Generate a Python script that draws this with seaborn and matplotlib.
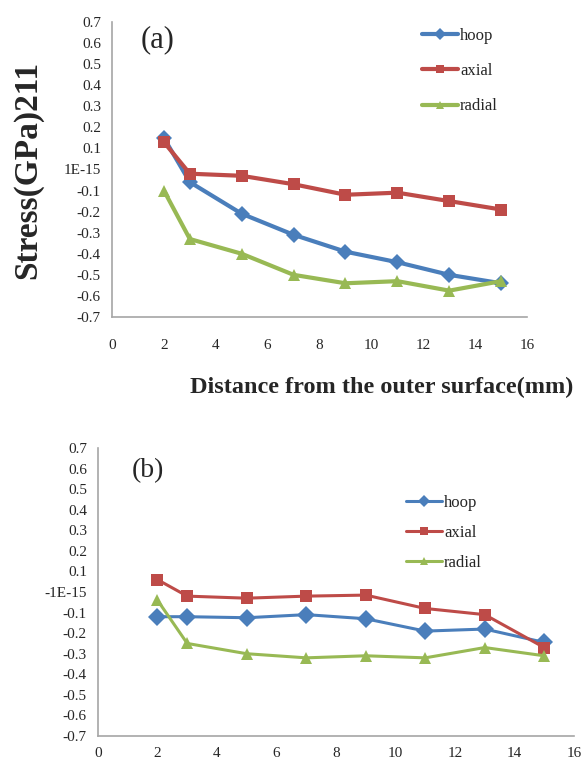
import numpy as np
import pandas as pd
import seaborn as sns
import matplotlib.pyplot as plt
from matplotlib.ticker import MultipleLocator

# distance from the outer surface (mm)
depth = [2, 3, 5, 7, 9, 11, 13, 15]

# panel (a) stresses, GPa
hoop_a = [0.15, -0.06, -0.21, -0.31, -0.39, -0.44, -0.50, -0.54]
axial_a = [0.13, -0.02, -0.03, -0.07, -0.12, -0.11, -0.15, -0.19]
radial_a = [-0.10, -0.33, -0.40, -0.50, -0.54, -0.53, -0.575, -0.53]

# panel (b) stresses, GPa
hoop_b = [-0.12, -0.12, -0.125, -0.11, -0.13, -0.19, -0.18, -0.245]
axial_b = [0.06, -0.02, -0.03, -0.02, -0.015, -0.08, -0.11, -0.27]
radial_b = [-0.04, -0.25, -0.30, -0.32, -0.31, -0.32, -0.27, -0.31]

series = ['hoop', 'axial', 'radial']
yticks = [0.7, 0.6, 0.5, 0.4, 0.3, 0.2, 0.1, 0.0, -0.1, -0.2, -0.3, -0.4, -0.5, -0.6, -0.7]

colors = {'hoop': '#4a7ebb', 'axial': '#be4b48', 'radial': '#98b954'}
markers = {'hoop': 'D', 'axial': 's', 'radial': '^'}


def to_long(h, a, r):
    rows = []
    for name, vals in zip(series, [h, a, r]):
        for x, v in zip(depth, vals):
            rows.append({'depth': x, 'stress': v, 'series': name})
    return pd.DataFrame(rows)


df_a = to_long(hoop_a, axial_a, radial_a)
df_b = to_long(hoop_b, axial_b, radial_b)

sns.set_style('white')
plt.rcParams['font.family'] = ['Liberation Serif', 'DejaVu Serif']

fig = plt.figure(figsize=(5.85, 7.69), dpi=100)
ax1 = fig.add_axes([0.1915, 0.5878, 0.7094, 0.3836])
ax2 = fig.add_axes([0.1675, 0.0429, 0.8137, 0.3745])


def draw(ax, df, lw, ms, zero_label):
    sns.lineplot(data=df, x='depth', y='stress', hue='series', style='series',
                 hue_order=series, style_order=series, palette=colors,
                 markers=markers, dashes=False, linewidth=lw, markersize=ms,
                 markeredgewidth=0, ax=ax)
    ax.set_xlim(0, 16)
    ax.set_ylim(-0.7, 0.7)
    ax.set_yticks(yticks)
    ax.set_yticklabels(['%.1f' % t if t != 0 else zero_label for t in yticks])
    ax.set_xticks(range(0, 17, 2))
    for side in ['top', 'right']:
        ax.spines[side].set_visible(False)
    for side in ['left', 'bottom']:
        ax.spines[side].set_color('#a6a6a6')
        ax.spines[side].set_linewidth(1.2)
    ax.tick_params(axis='both', direction='out', length=4, width=1,
                   color='#a6a6a6', labelsize=11, pad=4)
    ax.set_xlabel('')
    ax.set_ylabel('')


draw(ax1, df_a, 3, 8, '1E-15')
ax1.xaxis.set_minor_locator(MultipleLocator(0.4))
ax1.tick_params(axis='x', which='minor', direction='out', length=3,
                width=1, color='#a6a6a6')
ax1.tick_params(axis='x', which='major', pad=12)
draw(ax2, df_b, 2.2, 9, '-1E-15')

ax1.text(0.07, 0.94, '(a)', transform=ax1.transAxes, fontsize=22, va='center')
ax2.text(0.07, 0.92, '(b)', transform=ax2.transAxes, fontsize=20, va='center')

ax1.legend(loc='upper left', bbox_to_anchor=(0.71, 1.03), frameon=False,
           fontsize=12, handlelength=2.2, handletextpad=0.1, labelspacing=1.15,
           markerscale=0.8)
ax2.legend(loc='upper left', bbox_to_anchor=(0.615, 0.89), frameon=False,
           fontsize=12, handlelength=2.2, handletextpad=0.1, labelspacing=0.85,
           markerscale=0.7)

fig.text(0.653, 0.496, 'Distance from the outer surface(mm)', ha='center',
         va='center', fontsize=17.5, fontweight='bold')
fig.text(0.047, 0.779, 'Stress(GPa)211', ha='center', va='center',
         rotation=90, fontsize=24, fontweight='bold')

fig.savefig('out.png', dpi=100)
